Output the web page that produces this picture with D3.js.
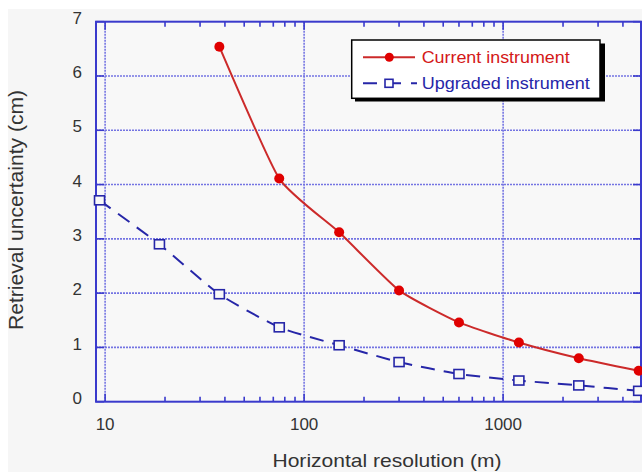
<!DOCTYPE html>
<html><head><meta charset="utf-8">
<script src="https://cdn.jsdelivr.net/npm/d3@7"></script>
<style>html,body{margin:0;padding:0;background:#fff;}svg{display:block;}</style>
</head><body>
<svg id="chart" width="642" height="472"></svg>
<script>
const resolution = [9.375, 18.75, 37.5, 75, 150, 300, 600, 1200, 2400, 4800];
const currentRes = [37.5, 75, 150, 300, 600, 1200, 2400, 4800];
const currentVals = [6.54, 4.11, 3.12, 2.05, 1.46, 1.09, 0.80, 0.57];
const upgradedVals = [3.71, 2.90, 1.98, 1.37, 1.04, 0.73, 0.51, 0.39, 0.30, 0.20];
const xTickLabels = [10, 100, 1000];
const yTickLabels = [0, 1, 2, 3, 4, 5, 6, 7];
const seriesNames = ["Current instrument", "Upgraded instrument"];

const svg = d3.select("#chart");
const font = "'Liberation Sans', Arial, Helvetica, sans-serif";
const L = 96, R = 641, T = 21.7, B = 401.7;
const x = d3.scaleLog().domain([9, 4930]).range([L, R]);
const y = d3.scaleLinear().domain([0, 7]).range([B, T]);
const axisCol = "#3a3acc", gridCol = "#7474e2";
const red = "#d41818", blue = "#2626a8";

svg.append("rect").attr("x", 8).attr("y", 9).attr("width", 634).attr("height", 463).attr("fill", "#f6f6f6");
svg.append("rect").attr("x", L).attr("y", T).attr("width", R - L).attr("height", B - T).attr("fill", "#f8f8f8");

// gridlines
const g = svg.append("g");
g.selectAll(".hg").data(yTickLabels.filter(d => d > 0 && d < 7)).join("line")
  .attr("x1", L).attr("x2", R).attr("y1", d => y(d)).attr("y2", d => y(d))
  .attr("stroke", gridCol).attr("stroke-width", 1.6).attr("stroke-dasharray", "2,1");
g.selectAll(".vg").data(xTickLabels).join("line")
  .attr("x1", d => x(d)).attr("x2", d => x(d)).attr("y1", T).attr("y2", B)
  .attr("stroke", gridCol).attr("stroke-width", 1.6).attr("stroke-dasharray", "2,1");

// minor/major x ticks
const minor = [];
[10, 100, 1000].forEach(dec => { for (let k = 2; k <= 9; k++) { const v = dec * k; if (v < 4930) minor.push(v); } });
const tk = svg.append("g").attr("stroke", axisCol).attr("stroke-width", 1.6);
minor.forEach(v => {
  tk.append("line").attr("x1", x(v)).attr("x2", x(v)).attr("y1", B).attr("y2", B - 5);
  tk.append("line").attr("x1", x(v)).attr("x2", x(v)).attr("y1", T).attr("y2", T + 5);
});
xTickLabels.forEach(v => {
  tk.append("line").attr("x1", x(v)).attr("x2", x(v)).attr("y1", B).attr("y2", B - 8);
  tk.append("line").attr("x1", x(v)).attr("x2", x(v)).attr("y1", T).attr("y2", T + 8);
});
yTickLabels.forEach(v => {
  tk.append("line").attr("x1", L).attr("x2", L + 8).attr("y1", y(v)).attr("y2", y(v));
  tk.append("line").attr("x1", R).attr("x2", R - 8).attr("y1", y(v)).attr("y2", y(v));
});

// frame
svg.append("rect").attr("x", L).attr("y", T).attr("width", R - L).attr("height", B - T)
  .attr("fill", "none").attr("stroke", axisCol).attr("stroke-width", 2);

// tick labels
svg.append("g").selectAll("text").data(yTickLabels).join("text")
  .attr("x", 82).attr("y", d => y(d) - 4).attr("dy", "0.36em").attr("text-anchor", "end")
  .attr("font-family", font).attr("font-size", 17).attr("fill", "#333").text(d => d);
svg.append("g").selectAll("text").data(xTickLabels).join("text")
  .attr("x", d => x(d)).attr("y", 429.5).attr("text-anchor", "middle")
  .attr("font-family", font).attr("font-size", 17).attr("fill", "#333").text(d => d);

// axis titles
svg.append("text").attr("x", 387).attr("y", 466.5).attr("text-anchor", "middle")
  .attr("font-family", font).attr("font-size", 18.5).attr("fill", "#333")
  .attr("textLength", 229).attr("lengthAdjust", "spacingAndGlyphs").text("Horizontal resolution (m)");
svg.append("text").attr("transform", "translate(23,210) rotate(-90)").attr("text-anchor", "middle")
  .attr("font-family", font).attr("font-size", 20.5).attr("fill", "#333")
  .attr("textLength", 240).attr("lengthAdjust", "spacingAndGlyphs").text("Retrieval uncertainty (cm)");

// series
const cur = currentRes.map((r, i) => [r, currentVals[i]]);
const upg = resolution.map((r, i) => [r, upgradedVals[i]]);
const line = d3.line().x(d => x(d[0])).y(d => y(d[1])).curve(d3.curveCardinal.tension(0.5));

svg.append("path").attr("d", line(upg)).attr("fill", "none").attr("stroke", blue)
  .attr("stroke-width", 2).attr("stroke-dasharray", "14,9");
svg.append("g").selectAll("rect").data(upg).join("rect")
  .attr("x", d => x(d[0]) - 5).attr("y", d => y(d[1]) - 4.5).attr("width", 10).attr("height", 9)
  .attr("fill", "#f8f8f8").attr("stroke", blue).attr("stroke-width", 1.6);

svg.append("path").attr("d", line(cur)).attr("fill", "none").attr("stroke", "#cc2a2a").attr("stroke-width", 2);
svg.append("g").selectAll("circle").data(cur).join("circle")
  .attr("cx", d => x(d[0])).attr("cy", d => y(d[1])).attr("r", 5).attr("fill", "#e00000");

// legend
const lg = svg.append("g");
lg.append("rect").attr("x", 355).attr("y", 43.5).attr("width", 250).attr("height", 58).attr("fill", "#000");
lg.append("rect").attr("x", 351.7).attr("y", 40).attr("width", 248.3).attr("height", 58.3)
  .attr("fill", "#fff").attr("stroke", "#000").attr("stroke-width", 1.5);
lg.append("line").attr("x1", 363).attr("x2", 415).attr("y1", 57.3).attr("y2", 57.3).attr("stroke", "#cc2a2a").attr("stroke-width", 2);
lg.append("circle").attr("cx", 389.3).attr("cy", 57.3).attr("r", 4.5).attr("fill", "#e00000");
lg.append("text").attr("x", 421.7).attr("y", 63).attr("font-family", font).attr("font-size", 17)
  .attr("fill", red).attr("textLength", 148).attr("lengthAdjust", "spacingAndGlyphs").text(seriesNames[0]);
lg.append("line").attr("x1", 363).attr("x2", 417).attr("y1", 83.3).attr("y2", 83.3).attr("stroke", blue)
  .attr("stroke-width", 2).attr("stroke-dasharray", "14,8,16,10,6");
lg.append("rect").attr("x", 385).attr("y", 79.3).attr("width", 8).attr("height", 8).attr("fill", "#fff")
  .attr("stroke", blue).attr("stroke-width", 1.6);
lg.append("text").attr("x", 421.7).attr("y", 89).attr("font-family", font).attr("font-size", 17)
  .attr("fill", blue).attr("textLength", 168).attr("lengthAdjust", "spacingAndGlyphs").text(seriesNames[1]);
</script>
</body></html>
